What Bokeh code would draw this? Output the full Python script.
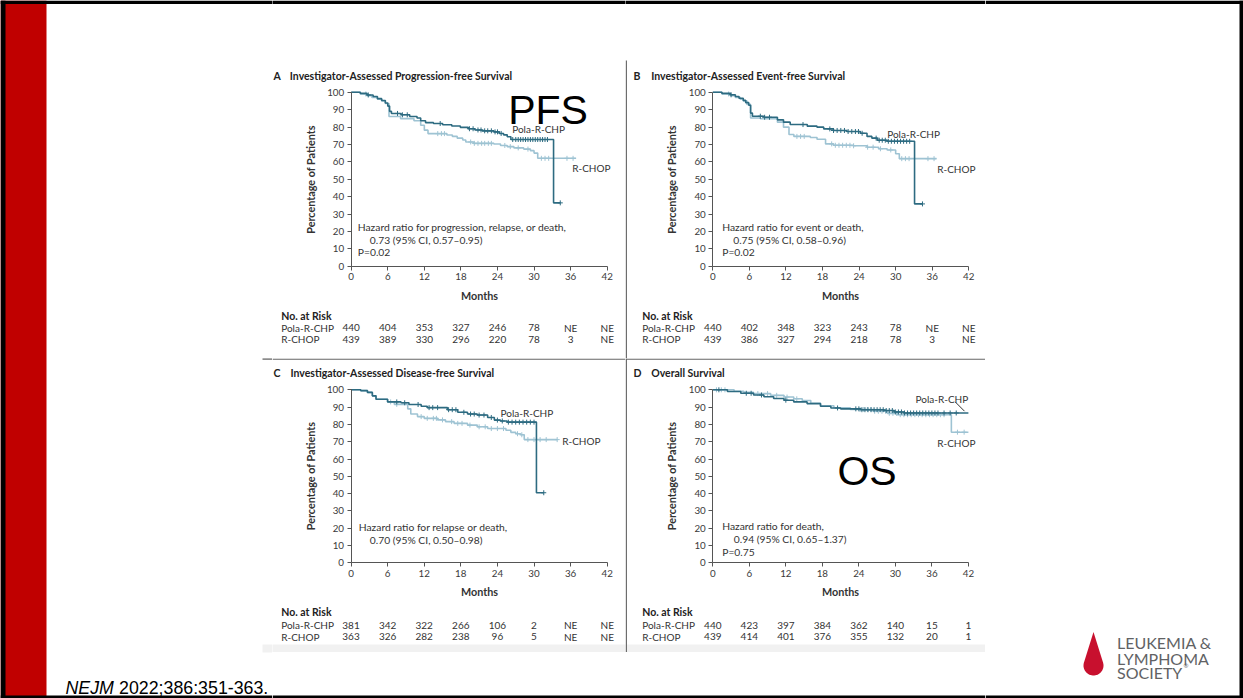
import numpy as np
from bokeh.plotting import figure
from bokeh.layouts import row, column
from bokeh.models import Range1d, FixedTicker, Label, Arrow
from bokeh.core.properties import value
from bokeh.embed import file_html
from bokeh.resources import INLINE

# ---------------- data ----------------
month_ticks = [0, 6, 12, 18, 24, 30, 36, 42]
pct_ticks = [0, 10, 20, 30, 40, 50, 60, 70, 80, 90, 100]
arm_names = ["Pola-R-CHP", "R-CHOP"]

# A  Investigator-assessed progression-free survival
pfs_pola_t = [0, 1.5, 2.6, 3.6, 4.3, 5.0, 5.6, 6.0, 6.3, 6.6, 8.2, 9.6, 10.8, 11.4, 12.2, 13.5, 15.0, 16.5, 17.9,
              19.2, 20.3, 21.5, 23.4, 24.3, 25.0, 25.6, 26.2, 33.2, 34.3]
pfs_pola_s = [100, 99.3, 98.4, 97.5, 96.3, 95.2, 93.8, 92.0, 89.0, 87.8, 87.0, 86.0, 85.2, 83.6, 82.5, 82.0, 81.3,
              80.6, 79.8, 79.0, 78.3, 77.8, 77.2, 76.3, 75.5, 74.4, 72.8, 36.4, 36.4]
pfs_rchop_t = [0, 1.5, 2.6, 3.4, 4.3, 5.0, 5.6, 6.2, 8.1, 10.3, 11.4, 12.0, 12.6, 15.7, 16.6, 17.4, 18.3, 18.8,
               20.1, 23.4, 24.5, 25.6, 26.7, 28.3, 29.4, 30.0, 30.6, 36.9]
pfs_rchop_s = [100, 99.0, 98.0, 97.0, 96.0, 95.0, 93.5, 86.0, 84.8, 83.6, 81.0, 78.2, 76.2, 75.4, 74.6, 73.6, 72.5,
               71.4, 70.6, 70.2, 69.4, 68.7, 68.0, 67.3, 66.4, 65.0, 62.0, 62.0]
pfs_pola_cens = [2.8, 7.6, 8.4, 9.2, 14.6, 19.4, 20.0, 20.8, 21.3, 21.9, 22.4, 23.0, 23.6, 24.0, 24.6, 26.5, 27.0,
                 27.4, 27.8, 28.2, 28.6, 29.0, 29.4, 29.8, 30.2, 30.6, 31.0, 31.4, 31.8, 32.2, 34.3]
pfs_rchop_cens = [2.4, 14.2, 14.8, 15.3, 19.6, 20.2, 20.8, 21.4, 21.9, 22.5, 23.0, 25.2, 26.1, 27.4, 29.0, 31.2,
                  31.8, 32.4, 35.4, 36.4]
pfs_risk_pola = ["440", "404", "353", "327", "246", "78", "NE", "NE"]
pfs_risk_rchop = ["439", "389", "330", "296", "220", "78", "3", "NE"]

# B  Investigator-assessed event-free survival
efs_pola_t = [0, 1.5, 2.9, 3.7, 4.3, 5.0, 5.4, 5.9, 6.2, 6.5, 8.4, 10.6, 11.6, 12.7, 15.5, 17.1, 18.2, 19.8, 22.0,
              24.2, 25.3, 26.1, 27.0, 28.6, 33.1, 34.4]
efs_pola_s = [100, 99.3, 98.5, 97.5, 96.5, 95.3, 94.0, 92.5, 88.0, 86.2, 85.6, 84.1, 82.8, 81.4, 80.5, 79.9, 78.9,
              78.0, 77.4, 76.4, 74.6, 73.6, 72.4, 71.8, 35.8, 35.8]
efs_rchop_t = [0, 1.5, 2.9, 3.7, 4.5, 5.0, 5.6, 6.2, 7.8, 10.6, 11.6, 12.5, 13.3, 16.0, 17.1, 18.5, 19.8, 23.1,
               25.3, 27.2, 28.6, 30.0, 30.6, 36.7]
efs_rchop_s = [100, 99.0, 98.0, 97.0, 96.0, 95.0, 93.0, 85.2, 84.7, 82.8, 79.9, 75.7, 74.6, 74.0, 73.0, 70.3, 69.5,
               69.2, 68.4, 67.5, 66.8, 64.6, 61.8, 61.8]
efs_pola_cens = [3.0, 7.8, 8.5, 9.3, 14.8, 19.2, 19.8, 20.4, 21.0, 21.6, 22.2, 22.8, 23.4, 23.9, 24.5, 26.8, 27.3,
                 27.8, 28.3, 28.8, 29.3, 29.8, 30.3, 30.8, 31.3, 31.8, 32.3, 34.4]
efs_rchop_cens = [2.6, 13.8, 14.4, 15.0, 19.5, 20.1, 20.7, 21.3, 21.9, 22.5, 23.1, 25.4, 26.3, 27.5, 29.2, 31.0,
                  31.6, 32.2, 35.3, 36.3]
efs_risk_pola = ["440", "402", "348", "323", "243", "78", "NE", "NE"]
efs_risk_rchop = ["439", "386", "327", "294", "218", "78", "3", "NE"]

# C  Investigator-assessed disease-free survival
dfs_pola_t = [0, 1.6, 2.7, 3.5, 4.1, 6.0, 8.2, 9.5, 11.5, 12.5, 15.8, 17.5, 19.1, 20.7, 22.4, 23.5, 24.5, 25.6,
              30.4, 31.6]
dfs_pola_s = [100, 99.5, 98.5, 96.5, 94.5, 93.0, 92.5, 91.5, 90.5, 89.7, 88.5, 87.0, 86.0, 85.4, 84.0, 82.5, 82.0,
              81.3, 40.5, 40.5]
dfs_rchop_t = [0, 1.6, 2.7, 3.5, 4.1, 6.0, 7.1, 9.3, 9.8, 10.9, 12.0, 14.2, 15.5, 16.9, 19.1, 20.7, 22.4, 25.4,
               26.2, 27.0, 27.8, 28.4, 33.8]
dfs_rchop_s = [100, 99.5, 98.5, 96.5, 94.5, 93.0, 91.6, 89.0, 86.0, 84.5, 83.5, 82.6, 81.6, 80.6, 79.6, 78.6, 77.6,
               76.6, 75.4, 74.6, 74.0, 71.2, 71.2]
dfs_pola_cens = [7.5, 8.8, 11.0, 12.8, 13.4, 14.2, 16.0, 16.6, 17.2, 18.5, 19.6, 20.2, 21.0, 21.8, 23.0, 24.0,
                 24.8, 25.8, 26.4, 27.0, 27.6, 28.2, 28.8, 29.4, 30.0, 31.6]
dfs_rchop_cens = [6.5, 7.5, 11.5, 12.5, 13.5, 14.0, 15.0, 16.5, 17.5, 18.2, 19.5, 21.0, 22.0, 23.0, 24.0, 25.0,
                  27.3, 28.0, 29.0, 30.0, 31.0, 32.0, 33.8]
dfs_risk_pola = ["381", "342", "322", "266", "106", "2", "NE", "NE"]
dfs_risk_rchop = ["363", "326", "282", "238", "96", "5", "NE", "NE"]

# D  Overall survival
os_pola_t = [0, 2.4, 4.6, 6.7, 8.4, 10.0, 11.7, 13.3, 15.5, 17.7, 19.4, 21.0, 24.3, 28.1, 29.8, 31.4, 42.0]
os_pola_s = [100, 99.0, 98.0, 97.0, 96.0, 95.0, 94.0, 93.0, 92.0, 90.5, 89.5, 89.0, 88.5, 88.0, 87.2, 86.6, 86.6]
os_rchop_t = [0, 3.5, 5.1, 6.7, 9.5, 11.7, 13.3, 14.7, 16.1, 17.7, 19.9, 22.6, 26.5, 28.7, 30.3, 39.2, 42.0]
os_rchop_s = [100, 99.2, 98.5, 97.8, 96.8, 95.8, 94.8, 93.8, 92.2, 90.8, 89.6, 88.6, 87.6, 86.4, 85.6, 75.5, 75.5]
os_pola_cens = [1.0, 5.5, 6.3, 8.0, 12.0, 20.5, 23.5, 24.0, 24.5, 25.0, 25.5, 26.0, 26.5, 27.0, 27.5, 28.0, 28.5,
                29.0, 29.5, 30.0, 30.5, 31.0, 31.5, 32.0, 32.5, 33.0, 33.5, 34.0, 34.5, 35.0, 35.5, 36.0, 36.5,
                37.0, 38.0, 39.0, 40.0]
os_rchop_cens = [0.6, 1.4, 2.0, 7.4, 9.0, 10.5, 12.2, 13.8, 24.2, 24.8, 25.4, 26.0, 26.6, 27.2, 27.8, 28.4, 29.0,
                 29.6, 30.2, 30.8, 31.4, 32.0, 32.6, 33.2, 33.8, 34.4, 35.0, 35.6, 36.2, 36.8, 37.4, 38.0, 40.2,
                 41.3]
os_risk_pola = ["440", "423", "397", "384", "362", "140", "15", "1"]
os_risk_rchop = ["439", "414", "401", "376", "355", "132", "20", "1"]

# ---------------- styles ----------------
DARK = "#2d6b81"
LIGHT = "#9ec3d3"
TXT = "#333333"
FONT = "Lato"
RED = "#c00000"
DIV = "#666666"


def step_value(t, s, c):
    idx = np.searchsorted(np.asarray(t), np.asarray(c), side="right") - 1
    return np.asarray(s)[idx]


def lab(p, x, y, text, size="10.2px", bold=False, color=TXT, align="left", font=FONT, baseline="middle"):
    p.add_layout(Label(x=x, y=y, text=text, text_font=font, text_font_size=size, text_color=color,
                       text_align=align, text_baseline=baseline,
                       text_font_style="bold" if bold else "normal"))


def km_panel(cell, X0, X42, Y100, Y0, curves, letter, title, hr_lines, arm_labels, risk, risk_rows,
             dividers, rects):
    L, T, W, H = cell
    kx = (X42 - X0) / 42.0
    ky = (Y0 - Y100) / 100.0

    def dx(X):
        return (X - X0) / kx

    def dy(Y):
        return (Y0 - Y) / ky

    p = figure(width=W, height=H, x_range=Range1d(dx(L), dx(L + W)), y_range=Range1d(dy(T + H), dy(T)),
               min_border=0, output_backend="svg", toolbar_location=None)
    p.grid.visible = False
    p.outline_line_color = None
    p.background_fill_color = "white"
    p.border_fill_color = "white"

    for ax, ticks, lbl in ((p.xaxis, month_ticks, "Months"), (p.yaxis, pct_ticks, "Percentage of Patients")):
        ax.fixed_location = 0
        ax.ticker = FixedTicker(ticks=ticks)
        ax.axis_label = lbl
        ax.axis_label_text_font = FONT
        ax.axis_label_text_font_size = "10.8px"
        ax.axis_label_text_font_style = "bold"
        ax.axis_label_text_color = "#333333"
        ax.major_label_text_font = FONT
        ax.major_label_text_font_size = "9.8px"
        ax.major_label_text_color = "#3a3a3a"
        ax.axis_line_color = "#555555"
        ax.major_tick_line_color = "#555555"
        ax.minor_tick_line_color = None
        ax.major_tick_in = 0
        ax.major_tick_out = 4
        ax.major_label_standoff = 3
    p.xaxis.bounds = (0, 42)
    p.yaxis.bounds = (0, 100)
    p.xaxis.axis_label_standoff = 5
    p.yaxis.axis_label_standoff = 7

    # slide decoration pieces that fall inside this cell
    for (xa, ya, xb, yb, col) in rects:
        p.quad(left=[dx(xa)], right=[dx(xb)], top=[dy(ya)], bottom=[dy(yb)], fill_color=col, line_color=None)

    # curves: light first, dark on top
    for (t, s, cens, col) in curves:
        p.step(t, s, mode="after", line_color=col, line_width=1.6)
        p.scatter(cens, step_value(t, s, cens), marker="cross", size=5, line_color=col, line_width=1)

    # panel title
    lab(p, dx(title[0]), dy(title[1]), letter, size="10.5px", bold=True, color="#222222")
    lab(p, dx(title[2]), dy(title[1]), title[3], size="10.5px", bold=True, color="#222222")
    # hazard ratio text
    for (X, Y, txt) in hr_lines:
        lab(p, dx(X), dy(Y), txt, size="10.3px")
    # curve labels
    for (X, Y, txt) in arm_labels:
        lab(p, dx(X), dy(Y), txt, size="10px")
    # number at risk
    rx, (hy, y1, y2) = risk_rows
    lab(p, dx(rx), dy(hy), "No. at Risk", size="10.5px", bold=True, color="#222222")
    for name, vals, Y in ((arm_names[0], risk[0], y1), (arm_names[1], risk[1], y2)):
        lab(p, dx(rx), dy(Y), name, size="10px")
        for m, v in zip(month_ticks, vals):
            lab(p, m, dy(Y), v, size="10px", align="center")
    # divider lines of the composite figure
    for (Xa, Ya, Xb, Yb) in dividers:
        p.add_layout(Arrow(end=None, x_start=dx(Xa), y_start=dy(Ya), x_end=dx(Xb), y_end=dy(Yb),
                           line_color=DIV, line_width=1.3))
    return p, dx, dy


BORDER_TOP = (0, 0, 1243, 3.5, "#000000")
BAND = (262, 644, 985, 652, "#f1f1f1")

# ---------------- panels ----------------
pA, dxA, dyA = km_panel(
    (272, 0, 353, 358), 350.7, 606.7, 91.7, 265.7,
    [(pfs_rchop_t, pfs_rchop_s, pfs_rchop_cens, LIGHT), (pfs_pola_t, pfs_pola_s, pfs_pola_cens, DARK)],
    "A", (273, 75, 289.3, "Investigator-Assessed Progression-free Survival"),
    [(357.3, 226.2, "Hazard ratio for progression, relapse, or death,"),
     (369.3, 239.5, "0.73 (95% CI, 0.57\u20130.95)"), (357.3, 251.5, "P=0.02")],
    [(511.7, 128.8, "Pola-R-CHP"), (571.7, 167.2, "R-CHOP")],
    (pfs_risk_pola, pfs_risk_rchop), (280.7, (315.5, 327, 338.5)), [], [BORDER_TOP])
lab(pA, dxA(547.5), dyA(109.5), "PFS", size="41px", color="#000000", align="center",
    font="Liberation Sans", baseline="alphabetic")

pB, dxB, dyB = km_panel(
    (625, 0, 360, 358), 712.3, 968.3, 91.7, 265.7,
    [(efs_rchop_t, efs_rchop_s, efs_rchop_cens, LIGHT), (efs_pola_t, efs_pola_s, efs_pola_cens, DARK)],
    "B", (633, 75, 650.7, "Investigator-Assessed Event-free Survival"),
    [(721.7, 226.2, "Hazard ratio for event or death,"),
     (732.7, 239.5, "0.75 (95% CI, 0.58\u20130.96)"), (721.7, 251.5, "P=0.02")],
    [(886.7, 133.8, "Pola-R-CHP"), (936.7, 168.2, "R-CHOP")],
    (efs_risk_pola, efs_risk_rchop), (641.7, (315.5, 327, 338.5)),
    [(625.8, 60, 625.8, 358)], [BORDER_TOP])

pC, dxC, dyC = km_panel(
    (272, 358, 353, 294), 350.5, 606.7, 389.3, 562.3,
    [(dfs_rchop_t, dfs_rchop_s, dfs_rchop_cens, LIGHT), (dfs_pola_t, dfs_pola_s, dfs_pola_cens, DARK)],
    "C", (273, 372.7, 290, "Investigator-Assessed Disease-free Survival"),
    [(358.3, 526.2, "Hazard ratio for relapse or death,"),
     (369.3, 539.5, "0.70 (95% CI, 0.50\u20130.98)")],
    [(500, 412.2, "Pola-R-CHP"), (561.7, 440.5, "R-CHOP")],
    (dfs_risk_pola, dfs_risk_rchop), (280.7, (611.5, 624.5, 636)),
    [(272, 358.6, 625, 358.6)], [BAND])

pD, dxD, dyD = km_panel(
    (625, 358, 360, 294), 712.3, 967.9, 389.3, 562.3,
    [(os_rchop_t, os_rchop_s, os_rchop_cens, LIGHT), (os_pola_t, os_pola_s, os_pola_cens, DARK)],
    "D", (633, 372.7, 650.7, "Overall Survival"),
    [(721.7, 525.5, "Hazard ratio for death,"),
     (733.3, 538.8, "0.94 (95% CI, 0.65\u20131.37)"), (721.7, 551.2, "P=0.75")],
    [(915, 398.2, "Pola-R-CHP"), (936.7, 442.8, "R-CHOP")],
    (os_risk_pola, os_risk_rchop), (641.7, (611.5, 624.5, 636)),
    [(625.8, 358, 625.8, 652), (625, 358.6, 985, 358.6)], [BAND])
pD.add_layout(Arrow(end=None, x_start=dxD(955), y_start=dyD(401.7), x_end=dxD(964), y_end=dyD(410.7),
                    line_color="#333333", line_width=1))
lab(pD, dxD(866.5), dyD(470.5), "OS", size="41px", color="#000000", align="center",
    font="Liberation Sans", baseline="alphabetic")


# ---------------- slide decoration ----------------
def deco(x0, x1, y0, y1):
    p = figure(width=int(x1 - x0), height=int(y1 - y0), x_range=Range1d(x0, x1), y_range=Range1d(y1, y0),
               x_axis_type=None, y_axis_type=None, min_border=0, output_backend="svg", toolbar_location=None)
    p.outline_line_color = None
    p.background_fill_color = "white"
    p.border_fill_color = "white"
    return p


def borders(p, x0, x1):
    p.quad(left=[x0], right=[x1], top=[0], bottom=[3.5], fill_color="#000000", line_color=None)
    p.quad(left=[x0], right=[x1], top=[695], bottom=[698], fill_color="#000000", line_color=None)


left = deco(0, 272, 0, 698)
left.quad(left=[0], right=[46], top=[0], bottom=[698], fill_color=RED, line_color=None)
left.quad(left=[0], right=[5], top=[0], bottom=[698], fill_color="#000000", line_color=None)
borders(left, 0, 272)
left.quad(left=[262], right=[272], top=[644], bottom=[652], fill_color="#f1f1f1", line_color=None)
left.segment(x0=[262], y0=[358.6], x1=[272], y1=[358.6], line_color=DIV, line_width=1.3)
left.text(x=[65], y=[687], text=["NEJM"], text_font=value("Liberation Sans"), text_font_size="17.8px",
          text_font_style="italic", text_baseline="alphabetic", text_color="#000000")
left.text(x=[118.5], y=[687], text=["2022;386:351-363."], text_font=value("Liberation Sans"),
          text_font_size="17.8px", text_baseline="alphabetic", text_color="#000000")

bottom = deco(272, 985, 652, 698)
borders(bottom, 272, 985)

right = deco(985, 1243, 0, 698)
borders(right, 985, 1243)
right.quad(left=[1239], right=[1243], top=[0], bottom=[698], fill_color="#000000", line_color=None)
cx, cy, r, tip_y = 1093.0, 665.0, 10.0, 631.5
d = cy - tip_y
phi = np.arccos(r / d)
ang = np.linspace(-np.pi / 2 + phi, 3 * np.pi / 2 - phi, 60)
drop_x = list(cx + r * np.cos(ang)) + [cx]
drop_y = list(cy + r * np.sin(ang)) + [tip_y]
right.patch(drop_x, drop_y, fill_color="#c8102e", line_color=None)
GRAY = "#616264"
for txt, yb in (("LEUKEMIA &", 642.3), ("LYMPHOMA", 657.8), ("SOCIETY", 672.3)):
    right.text(x=[1116.5], y=[yb], text=[txt], text_font=value("Lato"), text_font_size="16px",
               text_baseline="alphabetic", text_color=GRAY)
right.text(x=[1183], y=[664.5], text=["\u00ae"], text_font=value("Lato"), text_font_size="6px",
           text_baseline="alphabetic", text_color=GRAY)

layout = row(left, column(row(pA, pB), row(pC, pD), bottom), right)

open("out.html", "w").write(file_html(layout, INLINE))
